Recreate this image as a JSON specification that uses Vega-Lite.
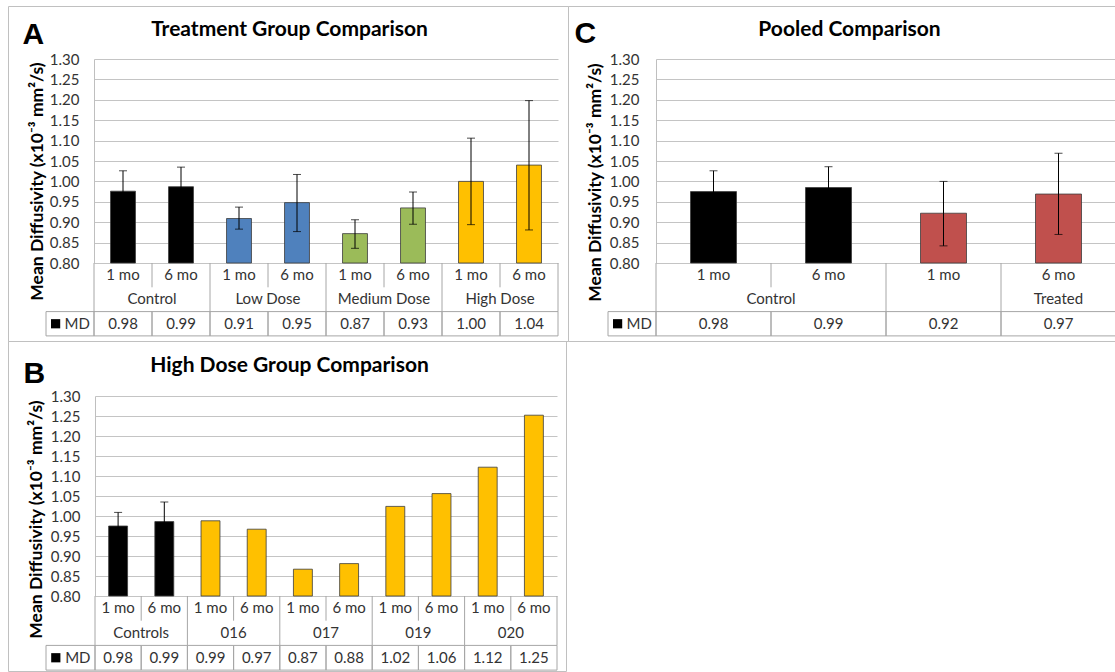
{
  "$schema": "https://vega.github.io/schema/vega-lite/v6.json",
  "padding": {"left": 7, "top": 5, "right": 0, "bottom": 0},
  "background": "white",
  "config": {"view": {"stroke": "#c0c0c0", "strokeWidth": 1}, "font": "Lato"},
  "spacing": 0,
  "bounds": "flush",
  "columns": 2,
  "resolve": {"scale": {"color": "independent"}},
  "concat": [
    {
      "width": 560,
      "height": 335,
      "data": {"values": [
        {"cat": "Control 1 mo", "group": "Control", "time": "1 mo", "mean": 0.976, "lo": 0.925, "hi": 1.026, "md": 0.98},
        {"cat": "Control 6 mo", "group": "Control", "time": "6 mo", "mean": 0.987, "lo": 0.938, "hi": 1.035, "md": 0.99},
        {"cat": "Low Dose 1 mo", "group": "Low Dose", "time": "1 mo", "mean": 0.909, "lo": 0.883, "hi": 0.937, "md": 0.91},
        {"cat": "Low Dose 6 mo", "group": "Low Dose", "time": "6 mo", "mean": 0.948, "lo": 0.877, "hi": 1.017, "md": 0.95},
        {"cat": "Medium Dose 1 mo", "group": "Medium Dose", "time": "1 mo", "mean": 0.872, "lo": 0.836, "hi": 0.906, "md": 0.87},
        {"cat": "Medium Dose 6 mo", "group": "Medium Dose", "time": "6 mo", "mean": 0.935, "lo": 0.895, "hi": 0.974, "md": 0.93},
        {"cat": "High Dose 1 mo", "group": "High Dose", "time": "1 mo", "mean": 1.0, "lo": 0.894, "hi": 1.106, "md": 1.0},
        {"cat": "High Dose 6 mo", "group": "High Dose", "time": "6 mo", "mean": 1.04, "lo": 0.881, "hi": 1.198, "md": 1.04}
      ]},
      "layer": [
        {
          "layer": [
            {
              "mark": {"type": "bar", "width": {"band": 0.43}, "stroke": "#3c3c3c", "strokeWidth": 0.8},
              "encoding": {
                "x": {"field": "cat", "type": "nominal",
                  "scale": {"domain": ["Control 1 mo", "Control 6 mo", "Low Dose 1 mo", "Low Dose 6 mo", "Medium Dose 1 mo", "Medium Dose 6 mo", "High Dose 1 mo", "High Dose 6 mo"], "range": [86, 550], "paddingInner": 0, "paddingOuter": 0},
                  "axis": {"orient": "top", "title": "Treatment Group Comparison", "labels": false, "ticks": false, "domain": false, "grid": false, "titleX": 281, "titleY": 29, "titleAlign": "center", "titleBaseline": "alphabetic", "titleFont": "Lato", "titleFontSize": 21, "titleFontWeight": "bold", "titleColor": "#000000"}},
                "y": {"field": "mean", "type": "quantitative",
                  "scale": {"domain": [0.8, 1.3], "range": [257, 53], "zero": false, "nice": false},
                  "axis": {"title": "Mean Diffusivity (x10⁻³ mm²/s)", "offset": -86, "values": [0.8, 0.85, 0.9, 0.95, 1, 1.05, 1.1, 1.15, 1.2, 1.25, 1.3], "tickCount": 11, "format": ".2f", "ticks": false, "domain": true, "domainColor": "#bfbfbf", "grid": true, "gridColor": "#c4c4c4", "labelOverlap": false, "labelFont": "Lato", "labelFontSize": 15, "labelColor": "#333333", "labelPadding": 15, "titleFont": "Lato", "titleFontSize": 17.5, "titleFontWeight": "bold", "titleColor": "#000000", "titleX": -57, "titleY": 175, "titleAngle": -90, "titleAlign": "center", "titleBaseline": "middle"}},
                "y2": {"datum": 0.8},
                "color": {"field": "group", "type": "nominal", "scale": {"domain": ["Control", "Low Dose", "Medium Dose", "High Dose"], "range": ["#000000", "#4f81bd", "#9bbb59", "#ffc000"]}, "legend": null}
              }
            },
            {
              "mark": {"type": "rule", "color": "#000000", "strokeWidth": 1},
              "encoding": {"x": {"field": "cat", "type": "nominal"}, "y": {"field": "lo", "type": "quantitative",
                  "axis": {"title": "Mean Diffusivity (x10⁻³ mm²/s)", "offset": -86, "values": [0.8, 0.85, 0.9, 0.95, 1, 1.05, 1.1, 1.15, 1.2, 1.25, 1.3], "tickCount": 11, "format": ".2f", "ticks": false, "domain": true, "domainColor": "#bfbfbf", "grid": true, "gridColor": "#c4c4c4", "labelOverlap": false, "labelFont": "Lato", "labelFontSize": 15, "labelColor": "#333333", "labelPadding": 15, "titleFont": "Lato", "titleFontSize": 17.5, "titleFontWeight": "bold", "titleColor": "#000000", "titleX": -57, "titleY": 175, "titleAngle": -90, "titleAlign": "center", "titleBaseline": "middle"}}, "y2": {"field": "hi"}}
            },
            {
              "mark": {"type": "tick", "color": "#000000", "thickness": 1, "size": 8},
              "encoding": {"x": {"field": "cat", "type": "nominal"}, "y": {"field": "hi", "type": "quantitative",
                  "axis": {"title": "Mean Diffusivity (x10⁻³ mm²/s)", "offset": -86, "values": [0.8, 0.85, 0.9, 0.95, 1, 1.05, 1.1, 1.15, 1.2, 1.25, 1.3], "tickCount": 11, "format": ".2f", "ticks": false, "domain": true, "domainColor": "#bfbfbf", "grid": true, "gridColor": "#c4c4c4", "labelOverlap": false, "labelFont": "Lato", "labelFontSize": 15, "labelColor": "#333333", "labelPadding": 15, "titleFont": "Lato", "titleFontSize": 17.5, "titleFontWeight": "bold", "titleColor": "#000000", "titleX": -57, "titleY": 175, "titleAngle": -90, "titleAlign": "center", "titleBaseline": "middle"}}}
            },
            {
              "mark": {"type": "tick", "color": "#000000", "thickness": 1, "size": 8},
              "encoding": {"x": {"field": "cat", "type": "nominal"}, "y": {"field": "lo", "type": "quantitative",
                  "axis": {"title": "Mean Diffusivity (x10⁻³ mm²/s)", "offset": -86, "values": [0.8, 0.85, 0.9, 0.95, 1, 1.05, 1.1, 1.15, 1.2, 1.25, 1.3], "tickCount": 11, "format": ".2f", "ticks": false, "domain": true, "domainColor": "#bfbfbf", "grid": true, "gridColor": "#c4c4c4", "labelOverlap": false, "labelFont": "Lato", "labelFontSize": 15, "labelColor": "#333333", "labelPadding": 15, "titleFont": "Lato", "titleFontSize": 17.5, "titleFontWeight": "bold", "titleColor": "#000000", "titleX": -57, "titleY": 175, "titleAngle": -90, "titleAlign": "center", "titleBaseline": "middle"}}}
            }
          ]
        },
        {
          "layer": [
            {
              "mark": {"type": "text", "font": "Lato", "fontSize": 15, "color": "#333333", "baseline": "middle"},
              "encoding": {
                "x": {"field": "cat", "type": "nominal",
                  "scale": {"domain": ["Control 1 mo", "Control 6 mo", "Low Dose 1 mo", "Low Dose 6 mo", "Medium Dose 1 mo", "Medium Dose 6 mo", "High Dose 1 mo", "High Dose 6 mo"], "range": [86, 550], "paddingInner": 0, "paddingOuter": 0},
                  "axis": {"orient": "top", "title": "A", "labels": false, "ticks": false, "domain": false, "grid": false, "titleX": 14, "titleY": 37, "titleAlign": "left", "titleBaseline": "alphabetic", "titleFont": "Liberation Sans", "titleFontSize": 30, "titleFontWeight": "bold", "titleColor": "#000000"}},
                "y": {"datum": 0.5, "type": "quantitative", "scale": {"domain": [0, 1], "range": [257, 281.3], "zero": false, "nice": false}, "axis": null},
                "text": {"field": "time"}
              }
            },
            {
              "transform": [{"filter": "datum.time == '6 mo'"}],
              "mark": {"type": "text", "font": "Lato", "fontSize": 15, "color": "#333333", "baseline": "middle"},
              "encoding": {"x": {"field": "cat", "type": "nominal", "bandPosition": 0}, "y": {"datum": 1.5, "type": "quantitative"}, "text": {"field": "group"}}
            },
            {
              "mark": {"type": "text", "font": "Lato", "fontSize": 15, "color": "#333333", "baseline": "middle"},
              "encoding": {"x": {"field": "cat", "type": "nominal"}, "y": {"datum": 2.5, "type": "quantitative"}, "text": {"field": "md", "format": ".2f"}}
            },
            {
              "mark": {"type": "bar", "width": {"band": 1}, "fill": "transparent", "stroke": "#a6a6a6", "strokeWidth": 1},
              "encoding": {"x": {"field": "cat", "type": "nominal"}, "y": {"datum": 2, "type": "quantitative"}, "y2": {"datum": 3}}
            },
            {
              "transform": [{"filter": "datum.time == '1 mo'"}],
              "mark": {"type": "rule", "color": "#a6a6a6", "strokeWidth": 1},
              "encoding": {"x": {"field": "cat", "type": "nominal", "bandPosition": 0}, "y": {"datum": 0, "type": "quantitative"}, "y2": {"datum": 2}}
            },
            {
              "transform": [{"filter": "datum.time == '6 mo'"}],
              "mark": {"type": "rule", "color": "#a6a6a6", "strokeWidth": 1},
              "encoding": {"x": {"field": "cat", "type": "nominal", "bandPosition": 0}, "y": {"datum": 0, "type": "quantitative"}, "y2": {"datum": 1}}
            },
            {
              "transform": [{"filter": "datum.cat == 'High Dose 6 mo'"}],
              "mark": {"type": "rule", "color": "#a6a6a6", "strokeWidth": 1},
              "encoding": {"x": {"field": "cat", "type": "nominal", "bandPosition": 1}, "y": {"datum": 0, "type": "quantitative"}, "y2": {"datum": 2}}
            }
          ]
        },
        {
          "data": {"values": [{"series": "MD"}]},
          "layer": [
            {
              "mark": {"type": "rect", "fill": "transparent", "stroke": "#a6a6a6", "strokeWidth": 1},
              "encoding": {
                "x": {"datum": 0, "type": "quantitative", "scale": {"domain": [0, 1], "range": [38, 86], "zero": false, "nice": false}, "axis": null},
                "x2": {"datum": 1},
                "y": {"datum": 2, "type": "quantitative", "scale": {"domain": [0, 1], "range": [257, 281.3], "zero": false, "nice": false}, "axis": null},
                "y2": {"datum": 3}
              }
            },
            {
              "mark": {"type": "point", "shape": "square", "filled": true, "color": "#000000", "size": 85, "opacity": 1},
              "encoding": {"x": {"datum": 0.2, "type": "quantitative"}, "y": {"datum": 2.5, "type": "quantitative"}}
            },
            {
              "mark": {"type": "text", "font": "Lato", "fontSize": 15, "color": "#333333", "baseline": "middle"},
              "encoding": {"x": {"datum": 0.65, "type": "quantitative"}, "y": {"datum": 2.5, "type": "quantitative"}, "text": {"field": "series"}}
            }
          ]
        }
      ],
      "resolve": {"scale": {"x": "independent", "y": "independent"}}
    },
    {
      "width": 548,
      "height": 335,
      "data": {"values": [
        {"cat": "Control 1 mo", "group": "Control", "time": "1 mo", "mean": 0.975, "lo": 0.924, "hi": 1.026, "md": 0.98},
        {"cat": "Control 6 mo", "group": "Control", "time": "6 mo", "mean": 0.985, "lo": 0.934, "hi": 1.036, "md": 0.99},
        {"cat": "Treated 1 mo", "group": "Treated", "time": "1 mo", "mean": 0.922, "lo": 0.842, "hi": 1.0, "md": 0.92},
        {"cat": "Treated 6 mo", "group": "Treated", "time": "6 mo", "mean": 0.969, "lo": 0.87, "hi": 1.069, "md": 0.97}
      ]},
      "layer": [
        {
          "layer": [
            {
              "mark": {"type": "bar", "width": {"band": 0.4}, "stroke": "#3c3c3c", "strokeWidth": 0.8},
              "encoding": {
                "x": {"field": "cat", "type": "nominal",
                  "scale": {"domain": ["Control 1 mo", "Control 6 mo", "Treated 1 mo", "Treated 6 mo"], "range": [88, 548], "paddingInner": 0, "paddingOuter": 0},
                  "axis": {"orient": "top", "title": "Pooled Comparison", "labels": false, "ticks": false, "domain": false, "grid": false, "titleX": 281, "titleY": 29, "titleAlign": "center", "titleBaseline": "alphabetic", "titleFont": "Lato", "titleFontSize": 21, "titleFontWeight": "bold", "titleColor": "#000000"}},
                "y": {"field": "mean", "type": "quantitative",
                  "scale": {"domain": [0.8, 1.3], "range": [257, 53], "zero": false, "nice": false},
                  "axis": {"title": "Mean Diffusivity (x10⁻³ mm²/s)", "offset": -88, "values": [0.8, 0.85, 0.9, 0.95, 1, 1.05, 1.1, 1.15, 1.2, 1.25, 1.3], "tickCount": 11, "format": ".2f", "ticks": false, "domain": true, "domainColor": "#bfbfbf", "grid": true, "gridColor": "#c4c4c4", "labelOverlap": false, "labelFont": "Lato", "labelFontSize": 15, "labelColor": "#333333", "labelPadding": 17, "titleFont": "Lato", "titleFontSize": 17.5, "titleFontWeight": "bold", "titleColor": "#000000", "titleX": -61, "titleY": 176, "titleAngle": -90, "titleAlign": "center", "titleBaseline": "middle"}},
                "y2": {"datum": 0.8},
                "color": {"field": "group", "type": "nominal", "scale": {"domain": ["Control", "Treated"], "range": ["#000000", "#c0504d"]}, "legend": null}
              }
            },
            {
              "mark": {"type": "rule", "color": "#000000", "strokeWidth": 1},
              "encoding": {"x": {"field": "cat", "type": "nominal"}, "y": {"field": "lo", "type": "quantitative",
                  "axis": {"title": "Mean Diffusivity (x10⁻³ mm²/s)", "offset": -88, "values": [0.8, 0.85, 0.9, 0.95, 1, 1.05, 1.1, 1.15, 1.2, 1.25, 1.3], "tickCount": 11, "format": ".2f", "ticks": false, "domain": true, "domainColor": "#bfbfbf", "grid": true, "gridColor": "#c4c4c4", "labelOverlap": false, "labelFont": "Lato", "labelFontSize": 15, "labelColor": "#333333", "labelPadding": 17, "titleFont": "Lato", "titleFontSize": 17.5, "titleFontWeight": "bold", "titleColor": "#000000", "titleX": -61, "titleY": 176, "titleAngle": -90, "titleAlign": "center", "titleBaseline": "middle"}}, "y2": {"field": "hi"}}
            },
            {
              "mark": {"type": "tick", "color": "#000000", "thickness": 1, "size": 8},
              "encoding": {"x": {"field": "cat", "type": "nominal"}, "y": {"field": "hi", "type": "quantitative",
                  "axis": {"title": "Mean Diffusivity (x10⁻³ mm²/s)", "offset": -88, "values": [0.8, 0.85, 0.9, 0.95, 1, 1.05, 1.1, 1.15, 1.2, 1.25, 1.3], "tickCount": 11, "format": ".2f", "ticks": false, "domain": true, "domainColor": "#bfbfbf", "grid": true, "gridColor": "#c4c4c4", "labelOverlap": false, "labelFont": "Lato", "labelFontSize": 15, "labelColor": "#333333", "labelPadding": 17, "titleFont": "Lato", "titleFontSize": 17.5, "titleFontWeight": "bold", "titleColor": "#000000", "titleX": -61, "titleY": 176, "titleAngle": -90, "titleAlign": "center", "titleBaseline": "middle"}}}
            },
            {
              "mark": {"type": "tick", "color": "#000000", "thickness": 1, "size": 8},
              "encoding": {"x": {"field": "cat", "type": "nominal"}, "y": {"field": "lo", "type": "quantitative",
                  "axis": {"title": "Mean Diffusivity (x10⁻³ mm²/s)", "offset": -88, "values": [0.8, 0.85, 0.9, 0.95, 1, 1.05, 1.1, 1.15, 1.2, 1.25, 1.3], "tickCount": 11, "format": ".2f", "ticks": false, "domain": true, "domainColor": "#bfbfbf", "grid": true, "gridColor": "#c4c4c4", "labelOverlap": false, "labelFont": "Lato", "labelFontSize": 15, "labelColor": "#333333", "labelPadding": 17, "titleFont": "Lato", "titleFontSize": 17.5, "titleFontWeight": "bold", "titleColor": "#000000", "titleX": -61, "titleY": 176, "titleAngle": -90, "titleAlign": "center", "titleBaseline": "middle"}}}
            }
          ]
        },
        {
          "layer": [
            {
              "mark": {"type": "text", "font": "Lato", "fontSize": 15, "color": "#333333", "baseline": "middle"},
              "encoding": {
                "x": {"field": "cat", "type": "nominal",
                  "scale": {"domain": ["Control 1 mo", "Control 6 mo", "Treated 1 mo", "Treated 6 mo"], "range": [88, 548], "paddingInner": 0, "paddingOuter": 0},
                  "axis": {"orient": "top", "title": "C", "labels": false, "ticks": false, "domain": false, "grid": false, "titleX": 6, "titleY": 36, "titleAlign": "left", "titleBaseline": "alphabetic", "titleFont": "Liberation Sans", "titleFontSize": 30, "titleFontWeight": "bold", "titleColor": "#000000"}},
                "y": {"datum": 0.5, "type": "quantitative", "scale": {"domain": [0, 1], "range": [257, 281.3], "zero": false, "nice": false}, "axis": null},
                "text": {"field": "time"}
              }
            },
            {
              "transform": [{"filter": "datum.cat == 'Control 6 mo'"}],
              "mark": {"type": "text", "font": "Lato", "fontSize": 15, "color": "#333333", "baseline": "middle"},
              "encoding": {"x": {"field": "cat", "type": "nominal", "bandPosition": 0}, "y": {"datum": 1.5, "type": "quantitative"}, "text": {"field": "group"}}
            },
            {
              "transform": [{"filter": "datum.cat == 'Treated 6 mo'"}],
              "mark": {"type": "text", "font": "Lato", "fontSize": 15, "color": "#333333", "baseline": "middle"},
              "encoding": {"x": {"field": "cat", "type": "nominal"}, "y": {"datum": 1.5, "type": "quantitative"}, "text": {"field": "group"}}
            },
            {
              "mark": {"type": "text", "font": "Lato", "fontSize": 15, "color": "#333333", "baseline": "middle"},
              "encoding": {"x": {"field": "cat", "type": "nominal"}, "y": {"datum": 2.5, "type": "quantitative"}, "text": {"field": "md", "format": ".2f"}}
            },
            {
              "mark": {"type": "bar", "width": {"band": 1}, "fill": "transparent", "stroke": "#a6a6a6", "strokeWidth": 1},
              "encoding": {"x": {"field": "cat", "type": "nominal"}, "y": {"datum": 2, "type": "quantitative"}, "y2": {"datum": 3}}
            },
            {
              "transform": [{"filter": "datum.cat != 'Control 6 mo'"}],
              "mark": {"type": "rule", "color": "#a6a6a6", "strokeWidth": 1},
              "encoding": {"x": {"field": "cat", "type": "nominal", "bandPosition": 0}, "y": {"datum": 0, "type": "quantitative"}, "y2": {"datum": 2}}
            },
            {
              "transform": [{"filter": "datum.cat == 'Control 6 mo'"}],
              "mark": {"type": "rule", "color": "#a6a6a6", "strokeWidth": 1},
              "encoding": {"x": {"field": "cat", "type": "nominal", "bandPosition": 0}, "y": {"datum": 0, "type": "quantitative"}, "y2": {"datum": 1}}
            }
          ]
        },
        {
          "data": {"values": [{"series": "MD"}]},
          "layer": [
            {
              "mark": {"type": "rect", "fill": "transparent", "stroke": "#a6a6a6", "strokeWidth": 1},
              "encoding": {
                "x": {"datum": 0, "type": "quantitative", "scale": {"domain": [0, 1], "range": [40, 88], "zero": false, "nice": false}, "axis": null},
                "x2": {"datum": 1},
                "y": {"datum": 2, "type": "quantitative", "scale": {"domain": [0, 1], "range": [257, 281.3], "zero": false, "nice": false}, "axis": null},
                "y2": {"datum": 3}
              }
            },
            {
              "mark": {"type": "point", "shape": "square", "filled": true, "color": "#000000", "size": 85, "opacity": 1},
              "encoding": {"x": {"datum": 0.2, "type": "quantitative"}, "y": {"datum": 2.5, "type": "quantitative"}}
            },
            {
              "mark": {"type": "text", "font": "Lato", "fontSize": 15, "color": "#333333", "baseline": "middle"},
              "encoding": {"x": {"datum": 0.65, "type": "quantitative"}, "y": {"datum": 2.5, "type": "quantitative"}, "text": {"field": "series"}}
            }
          ]
        }
      ],
      "resolve": {"scale": {"x": "independent", "y": "independent"}}
    },
    {
      "width": 558,
      "height": 330,
      "data": {"values": [
        {"cat": "Controls 1 mo", "group": "Controls", "time": "1 mo", "mean": 0.975, "lo": 0.941, "hi": 1.009, "md": 0.98},
        {"cat": "Controls 6 mo", "group": "Controls", "time": "6 mo", "mean": 0.986, "lo": 0.937, "hi": 1.035, "md": 0.99},
        {"cat": "016 1 mo", "group": "016", "time": "1 mo", "mean": 0.988, "md": 0.99},
        {"cat": "016 6 mo", "group": "016", "time": "6 mo", "mean": 0.967, "md": 0.97},
        {"cat": "017 1 mo", "group": "017", "time": "1 mo", "mean": 0.867, "md": 0.87},
        {"cat": "017 6 mo", "group": "017", "time": "6 mo", "mean": 0.881, "md": 0.88},
        {"cat": "019 1 mo", "group": "019", "time": "1 mo", "mean": 1.024, "md": 1.02},
        {"cat": "019 6 mo", "group": "019", "time": "6 mo", "mean": 1.056, "md": 1.06},
        {"cat": "020 1 mo", "group": "020", "time": "1 mo", "mean": 1.122, "md": 1.12},
        {"cat": "020 6 mo", "group": "020", "time": "6 mo", "mean": 1.252, "md": 1.25}
      ]},
      "layer": [
        {
          "layer": [
            {
              "mark": {"type": "bar", "width": {"band": 0.41}, "stroke": "#3c3c3c", "strokeWidth": 0.8},
              "encoding": {
                "x": {"field": "cat", "type": "nominal",
                  "scale": {"domain": ["Controls 1 mo", "Controls 6 mo", "016 1 mo", "016 6 mo", "017 1 mo", "017 6 mo", "019 1 mo", "019 6 mo", "020 1 mo", "020 6 mo"], "range": [87, 549], "paddingInner": 0, "paddingOuter": 0},
                  "axis": {"orient": "top", "title": "High Dose Group Comparison", "labels": false, "ticks": false, "domain": false, "grid": false, "titleX": 281, "titleY": 30, "titleAlign": "center", "titleBaseline": "alphabetic", "titleFont": "Lato", "titleFontSize": 21, "titleFontWeight": "bold", "titleColor": "#000000"}},
                "y": {"field": "mean", "type": "quantitative",
                  "scale": {"domain": [0.8, 1.3], "range": [255, 55], "zero": false, "nice": false},
                  "axis": {"title": "Mean Diffusivity (x10⁻³ mm²/s)", "offset": -87, "values": [0.8, 0.85, 0.9, 0.95, 1, 1.05, 1.1, 1.15, 1.2, 1.25, 1.3], "tickCount": 11, "format": ".2f", "ticks": false, "domain": true, "domainColor": "#bfbfbf", "grid": true, "gridColor": "#c4c4c4", "labelOverlap": false, "labelFont": "Lato", "labelFontSize": 15, "labelColor": "#333333", "labelPadding": 15, "titleFont": "Lato", "titleFontSize": 17.5, "titleFontWeight": "bold", "titleColor": "#000000", "titleX": -59, "titleY": 178, "titleAngle": -90, "titleAlign": "center", "titleBaseline": "middle"}},
                "y2": {"datum": 0.8},
                "color": {"field": "group", "type": "nominal", "scale": {"domain": ["Controls", "016", "017", "019", "020"], "range": ["#000000", "#ffc000", "#ffc000", "#ffc000", "#ffc000"]}, "legend": null}
              }
            },
            {
              "transform": [{"filter": "isValid(datum.lo)"}],
              "mark": {"type": "rule", "color": "#000000", "strokeWidth": 1},
              "encoding": {"x": {"field": "cat", "type": "nominal"}, "y": {"field": "lo", "type": "quantitative",
                  "axis": {"title": "Mean Diffusivity (x10⁻³ mm²/s)", "offset": -87, "values": [0.8, 0.85, 0.9, 0.95, 1, 1.05, 1.1, 1.15, 1.2, 1.25, 1.3], "tickCount": 11, "format": ".2f", "ticks": false, "domain": true, "domainColor": "#bfbfbf", "grid": true, "gridColor": "#c4c4c4", "labelOverlap": false, "labelFont": "Lato", "labelFontSize": 15, "labelColor": "#333333", "labelPadding": 15, "titleFont": "Lato", "titleFontSize": 17.5, "titleFontWeight": "bold", "titleColor": "#000000", "titleX": -59, "titleY": 178, "titleAngle": -90, "titleAlign": "center", "titleBaseline": "middle"}}, "y2": {"field": "hi"}}
            },
            {
              "transform": [{"filter": "isValid(datum.hi)"}],
              "mark": {"type": "tick", "color": "#000000", "thickness": 1, "size": 8},
              "encoding": {"x": {"field": "cat", "type": "nominal"}, "y": {"field": "hi", "type": "quantitative",
                  "axis": {"title": "Mean Diffusivity (x10⁻³ mm²/s)", "offset": -87, "values": [0.8, 0.85, 0.9, 0.95, 1, 1.05, 1.1, 1.15, 1.2, 1.25, 1.3], "tickCount": 11, "format": ".2f", "ticks": false, "domain": true, "domainColor": "#bfbfbf", "grid": true, "gridColor": "#c4c4c4", "labelOverlap": false, "labelFont": "Lato", "labelFontSize": 15, "labelColor": "#333333", "labelPadding": 15, "titleFont": "Lato", "titleFontSize": 17.5, "titleFontWeight": "bold", "titleColor": "#000000", "titleX": -59, "titleY": 178, "titleAngle": -90, "titleAlign": "center", "titleBaseline": "middle"}}}
            }
          ]
        },
        {
          "layer": [
            {
              "mark": {"type": "text", "font": "Lato", "fontSize": 15, "color": "#333333", "baseline": "middle"},
              "encoding": {
                "x": {"field": "cat", "type": "nominal",
                  "scale": {"domain": ["Controls 1 mo", "Controls 6 mo", "016 1 mo", "016 6 mo", "017 1 mo", "017 6 mo", "019 1 mo", "019 6 mo", "020 1 mo", "020 6 mo"], "range": [87, 549], "paddingInner": 0, "paddingOuter": 0},
                  "axis": {"orient": "top", "title": "B", "labels": false, "ticks": false, "domain": false, "grid": false, "titleX": 15, "titleY": 41, "titleAlign": "left", "titleBaseline": "alphabetic", "titleFont": "Liberation Sans", "titleFontSize": 30, "titleFontWeight": "bold", "titleColor": "#000000"}},
                "y": {"datum": 0.5, "type": "quantitative", "scale": {"domain": [0, 1], "range": [255, 279.7], "zero": false, "nice": false}, "axis": null},
                "text": {"field": "time"}
              }
            },
            {
              "transform": [{"filter": "datum.time == '6 mo'"}],
              "mark": {"type": "text", "font": "Lato", "fontSize": 15, "color": "#333333", "baseline": "middle"},
              "encoding": {"x": {"field": "cat", "type": "nominal", "bandPosition": 0}, "y": {"datum": 1.5, "type": "quantitative"}, "text": {"field": "group"}}
            },
            {
              "mark": {"type": "text", "font": "Lato", "fontSize": 15, "color": "#333333", "baseline": "middle"},
              "encoding": {"x": {"field": "cat", "type": "nominal"}, "y": {"datum": 2.5, "type": "quantitative"}, "text": {"field": "md", "format": ".2f"}}
            },
            {
              "mark": {"type": "bar", "width": {"band": 1}, "fill": "transparent", "stroke": "#a6a6a6", "strokeWidth": 1},
              "encoding": {"x": {"field": "cat", "type": "nominal"}, "y": {"datum": 2, "type": "quantitative"}, "y2": {"datum": 3}}
            },
            {
              "transform": [{"filter": "datum.time == '1 mo'"}],
              "mark": {"type": "rule", "color": "#a6a6a6", "strokeWidth": 1},
              "encoding": {"x": {"field": "cat", "type": "nominal", "bandPosition": 0}, "y": {"datum": 0, "type": "quantitative"}, "y2": {"datum": 2}}
            },
            {
              "transform": [{"filter": "datum.time == '6 mo'"}],
              "mark": {"type": "rule", "color": "#a6a6a6", "strokeWidth": 1},
              "encoding": {"x": {"field": "cat", "type": "nominal", "bandPosition": 0}, "y": {"datum": 0, "type": "quantitative"}, "y2": {"datum": 1}}
            },
            {
              "transform": [{"filter": "datum.cat == '020 6 mo'"}],
              "mark": {"type": "rule", "color": "#a6a6a6", "strokeWidth": 1},
              "encoding": {"x": {"field": "cat", "type": "nominal", "bandPosition": 1}, "y": {"datum": 0, "type": "quantitative"}, "y2": {"datum": 2}}
            }
          ]
        },
        {
          "data": {"values": [{"series": "MD"}]},
          "layer": [
            {
              "mark": {"type": "rect", "fill": "transparent", "stroke": "#a6a6a6", "strokeWidth": 1},
              "encoding": {
                "x": {"datum": 0, "type": "quantitative", "scale": {"domain": [0, 1], "range": [38, 87], "zero": false, "nice": false}, "axis": null},
                "x2": {"datum": 1},
                "y": {"datum": 2, "type": "quantitative", "scale": {"domain": [0, 1], "range": [255, 279.7], "zero": false, "nice": false}, "axis": null},
                "y2": {"datum": 3}
              }
            },
            {
              "mark": {"type": "point", "shape": "square", "filled": true, "color": "#000000", "size": 85, "opacity": 1},
              "encoding": {"x": {"datum": 0.2, "type": "quantitative"}, "y": {"datum": 2.5, "type": "quantitative"}}
            },
            {
              "mark": {"type": "text", "font": "Lato", "fontSize": 15, "color": "#333333", "baseline": "middle"},
              "encoding": {"x": {"datum": 0.65, "type": "quantitative"}, "y": {"datum": 2.5, "type": "quantitative"}, "text": {"field": "series"}}
            }
          ]
        }
      ],
      "resolve": {"scale": {"x": "independent", "y": "independent"}}
    }
  ]
}
